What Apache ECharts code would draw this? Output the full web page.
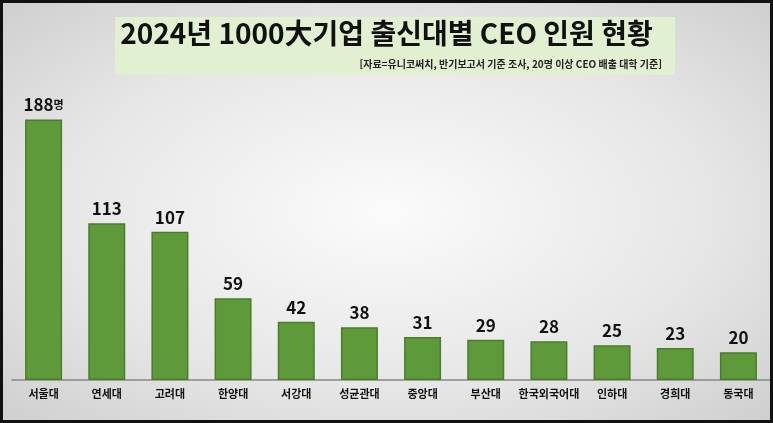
<!doctype html>
<html lang="ko">
<head>
	<meta charset="UTF-8">
	<title>2024년 1000大기업 출신대별 CEO 인원 현황</title>
	<script src="https://cdn.jsdelivr.net/npm/echarts@6/dist/echarts.min.js"></script>
	<style>
		html, body { margin: 0; padding: 0; }
		#chart { width: 773px; height: 423px; box-sizing: border-box; border: 3px solid #111;
			background: radial-gradient(ellipse at center, #fbfbfb 0%, #e6e6e6 60%, #cfcfcf 100%); }
	</style>
</head>
<body>
	<div id="chart"></div>
	<script>
		var categories = ['서울대', '연세대', '고려대', '한양대', '서강대', '성균관대', '중앙대', '부산대', '한국외국어대', '인하대', '경희대', '동국대'];
		var ceoCounts = [188, 113, 107, 59, 42, 38, 31, 29, 28, 25, 23, 20];

		var font = '"Noto Sans CJK KR", sans-serif';
		var chart = echarts.init(document.getElementById('chart'));

		var option = {
			graphic: [
				{ type: 'rect', left: 112, top: 14, shape: { width: 560, height: 58 }, style: { fill: '#e2f0d2' } },
				{ type: 'text', left: 'center', top: 16, style: { text: '2024년 1000大기업 출신대별 CEO 인원 현황', font: 'bold 28px ' + font, fill: '#111' } },
				{ type: 'text', right: 108, top: 56, style: { text: '[자료=유니코써치, 반기보고서 기준 조사, 20명 이상 CEO 배출 대학 기준]', font: 'bold 10px ' + font, fill: '#222' } }
			],
			grid: { left: 9, right: 0, top: 97, bottom: 40 },
			xAxis: {
				type: 'category',
				data: categories,
				axisTick: { show: false },
				axisLine: { lineStyle: { color: '#888', width: 1.5 } },
				axisLabel: { color: '#111', fontFamily: font, fontWeight: 'bold', fontSize: 11, margin: 8, interval: 0 }
			},
			yAxis: { type: 'value', min: 0, max: 202, show: false, splitLine: { show: false } },
			series: [{
				type: 'bar',
				data: ceoCounts,
				barWidth: 37,
				itemStyle: { color: '#5f9a3a', borderColor: '#4a7d2b', borderWidth: 1.5 },
				label: {
					show: true,
					position: 'top',
					distance: 6,
					color: '#111',
					fontFamily: font,
					fontWeight: 'bold',
					fontSize: 17,
					formatter: function (p) { return p.dataIndex === 0 ? p.value + '{u|명}' : p.value; },
					rich: { u: { fontSize: 11, fontWeight: 'bold', fontFamily: font, color: '#111' } }
				}
			}]
		};

		chart.setOption(option);
	</script>
</body>
</html>
